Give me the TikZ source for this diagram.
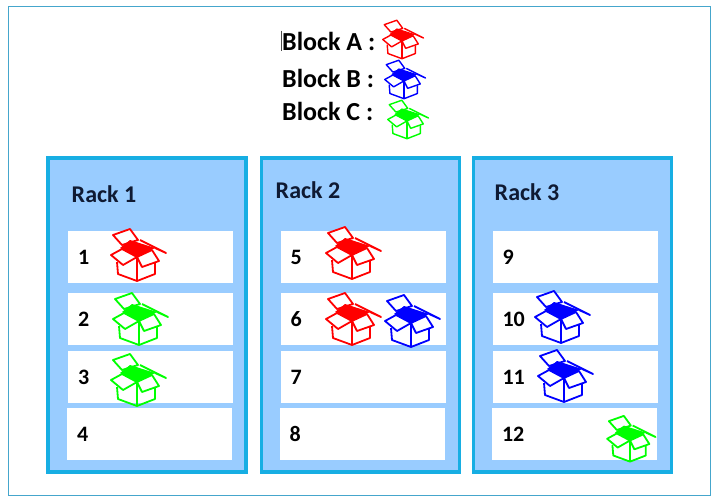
\documentclass[tikz,border=0pt]{standalone}
\usepackage{fontspec}
\setmainfont{Carlito}
\usepackage{tikz}
\usetikzlibrary{positioning}
\definecolor{rackblue}{HTML}{99CCFF}
\definecolor{rackline}{HTML}{17AEE3}
\definecolor{frameline}{HTML}{45A6CC}
\definecolor{titleink}{HTML}{0F1A33}

\begin{document}
\begin{tikzpicture}[
    x=1pt, y=-1pt,
    rack/.style={rectangle, draw=rackline, fill=rackblue, line width=3.2pt, minimum width=198pt, minimum height=314pt},
    slot/.style={rectangle, fill=white, minimum width=165pt, minimum height=52pt, text width=145pt, inner xsep=10pt, inner ysep=0pt, align=left, font=\fontsize{22}{24}\selectfont\bfseries, text=black},
    racktitle/.style={font=\fontsize{24}{26}\selectfont\bfseries, text=titleink, inner sep=0pt},
    legend/.style={anchor=west, font=\fontsize{26}{28}\selectfont\bfseries, text=black, inner sep=0pt},
    openbox/.pic={
        \draw[fill=white, line join=round] (-24,-18) -- (-7,-24) -- (1,-13) -- (-15,-8) -- cycle;
        \draw[line join=round] (3,-13) -- (29,0) -- (18,-5);
        \draw[line join=round] (-20,9) -- (-19,21) -- (0,28) -- (18,21) -- (18,10);
        \draw (0,4) -- (0,28);
        \draw[fill=white, line join=round] (-15,-4) -- (-26,2) -- (-14,12) -- (0,4) -- cycle;
        \draw[fill=white, line join=round] (0,4) -- (15,-3) -- (22,8) -- (5,14) -- cycle;
        \fill (-17,-5) -- (-7,-13) -- (18,-5) -- (0,4) -- cycle;
    },
    bigbox/.style={line width=1.8pt},
    smallbox/.style={line width=1.4pt, scale=0.74}
]
\useasboundingbox (0,0) rectangle (718,503);

% Outer frame
\node[draw=frameline, line width=0.9pt, minimum width=702pt, minimum height=489pt, inner sep=0pt] (frame) at (359,250.5) {};

% Legend
\node[legend] (la) at (282,41) {Block A :};
\node[legend] (lb) at (282,78) {Block B :};
\node[legend] (lc) at (282,111) {Block C :};
\draw[line width=0.8pt, black!70] (la.north west) ++(-1,-1) -- ++(0,20);
\pic[red, smallbox] at (402,38) {openbox};
\pic[blue, smallbox] at (404,78) {openbox};
\pic[green, smallbox] at (407,118) {openbox};

% Racks
\node[rack] (rack1) at (147,315) {};
\node[rack] (rack2) at (360.5,315) {};
\node[rack] (rack3) at (572.5,315) {};

\node[racktitle] (t1) at (104,194) {Rack 1};
\node[racktitle] (t2) at (308,190) {Rack 2};
\node[racktitle] (t3) at (527,192) {Rack 3};

% Rack 1 slots
\node[slot] (s1) at (150.5,257) {1};
\node[slot] (s2) at (150.5,319) {2};
\node[slot] (s3) at (150.5,377) {3};
\node[slot] (s4) at (149.5,434) {4};

% Rack 2 slots
\node[slot] (s5) at (363,257) {5};
\node[slot] (s6) at (363,319) {6};
\node[slot] (s7) at (363,377) {7};
\node[slot] (s8) at (362,434) {8};

% Rack 3 slots
\node[slot] (s9) at (575,257) {9};
\node[slot] (s10) at (575,319) {10};
\node[slot] (s11) at (575,377) {11};
\node[slot] (s12) at (574.5,434) {12};

% Blocks
\pic[red, bigbox] at (137,253) {openbox};
\pic[green, bigbox] at (139,317) {openbox};
\pic[green, bigbox] at (137,378) {openbox};
\pic[red, bigbox] at (352,251) {openbox};
\pic[red, bigbox] at (352,317) {openbox};
\pic[blue, bigbox] at (411,319) {openbox};
\pic[blue, bigbox] at (561,315) {openbox};
\pic[blue, bigbox] at (564,374) {openbox};
\pic[green, bigbox, scale=0.88] at (630,437) {openbox};

\end{tikzpicture}
\end{document}
